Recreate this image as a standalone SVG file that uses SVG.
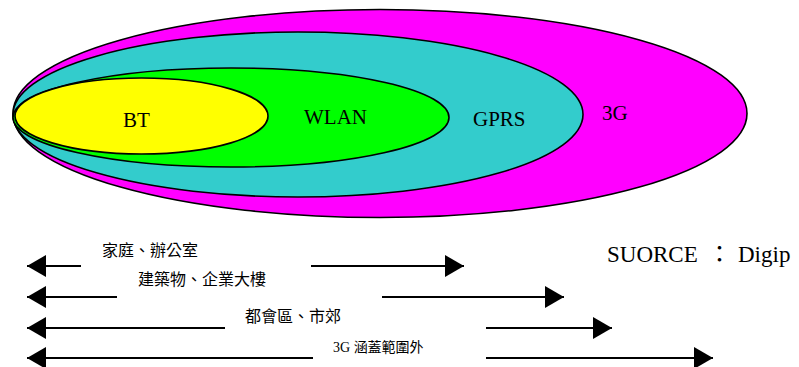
<svg xmlns="http://www.w3.org/2000/svg" width="799" height="367" viewBox="0 0 799 367">
<style>
.zone{stroke:#000;stroke-width:1.6}
.lbl{font-family:"Liberation Serif","Times New Roman",serif;font-size:21px;fill:#000}
.cjk{font-family:"Noto Sans CJK TC","Noto Sans CJK SC",sans-serif;font-size:16px;fill:#000}
.conn{stroke:#000;stroke-width:2;fill:none;marker-end:url(#ah)}
</style>
<defs>
<marker id="ah" markerUnits="userSpaceOnUse" markerWidth="20" markerHeight="22" refX="19" refY="11" orient="auto" viewBox="0 0 20 22">
<path d="M0,0 L19,11 L0,22 Z" fill="#000"/>
</marker>
</defs>
<g id="zone-3g"><ellipse class="zone" cx="380" cy="113.5" rx="367" ry="104" fill="#FF00FF"/><text class="lbl" x="602" y="120">3G</text></g>
<g id="zone-gprs"><ellipse class="zone" cx="298" cy="114.5" rx="285" ry="82.5" fill="#33CCCC"/><text class="lbl" x="473" y="126">GPRS</text></g>
<g id="zone-wlan"><ellipse class="zone" cx="231" cy="117.5" rx="218" ry="49.5" fill="#00FF00"/><text class="lbl" x="304" y="124">WLAN</text></g>
<g id="zone-bt"><ellipse class="zone" cx="141.5" cy="116" rx="126.5" ry="38" fill="#FFFF00"/><text class="lbl" x="123" y="127">BT</text></g>
<g id="source"><text font-family="Liberation Serif,'Times New Roman',serif" font-size="23" x="607" y="262">SUORCE<tspan x="708" font-family="'Noto Sans CJK TC',sans-serif">：</tspan><tspan x="738">Digip</tspan></text></g>
<g id="range-labels">
<text class="cjk" x="102" y="256">家庭、辦公室</text>
<text class="cjk" x="138" y="285">建築物、企業大樓</text>
<text class="cjk" x="245" y="322">都會區、市郊</text>
<text x="333" y="352" font-size="14"><tspan font-family="Liberation Serif,serif">3G </tspan><tspan font-family="'Noto Sans CJK TC',sans-serif">涵蓋範圍外</tspan></text>
</g>
<g id="connectors">
<line class="conn" x1="81" y1="266" x2="27" y2="266"/>
<line class="conn" x1="311" y1="266" x2="464" y2="266"/>
<line class="conn" x1="117" y1="297" x2="27" y2="297"/>
<line class="conn" x1="382" y1="297" x2="564" y2="297"/>
<line class="conn" x1="225" y1="328" x2="27" y2="328"/>
<line class="conn" x1="486" y1="328" x2="612" y2="328"/>
<line class="conn" x1="313" y1="358" x2="27" y2="358"/>
<line class="conn" x1="486" y1="358" x2="713" y2="358"/>
</g>
</svg>
